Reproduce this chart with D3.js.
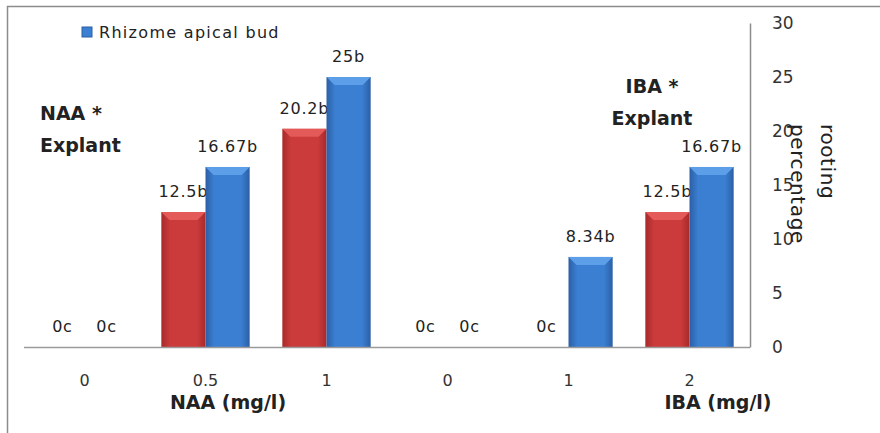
<!DOCTYPE html>
<html>
<head>
<meta charset="utf-8">
<script src="https://cdn.jsdelivr.net/npm/d3@7"></script>
<style>
  body { margin: 0; background: #fff; }
  svg { display: block; font-family: "DejaVu Sans", sans-serif; }
</style>
</head>
<body>
<svg id="chart"></svg>
<script>
const width = 880;
const height = 433;
const margins = { top: 23, right: 130, bottom: 86, left: 24 };

// six treatments: NAA 0/0.5/1 then IBA 0/1/2
const categories = ["NAA 0", "NAA 0.5", "NAA 1", "IBA 0", "IBA 1", "IBA 2"];
const tickLabels = ["0", "0.5", "1", "0", "1", "2"];
const redValues = [0, 12.5, 20.2, 0, 0, 12.5];
const blueValues = [0, 16.67, 25, 0, 8.34, 16.67];
const redLabels = ["0c", "12.5b", "20.2b", "0c", "0c", "12.5b"];
const blueLabels = ["0c", "16.67b", "25b", "0c", "8.34b", "16.67b"];
const yTicks = [0, 5, 10, 15, 20, 25, 30];

const svg = d3.select("#chart").attr("width", width).attr("height", height);

// outer frame (only top and left edges show)
svg.append("path")
  .attr("d", `M7.5,${height} V6.5 H${width}`)
  .attr("fill", "none")
  .attr("stroke", "#8c8c8c")
  .attr("stroke-width", 1.5);

const x = d3.scaleBand()
  .domain(categories)
  .range([margins.left, width - margins.right])
  .paddingInner(0.27)
  .paddingOuter(0.135);

const x1 = d3.scaleBand().domain(["red", "blue"]).range([0, x.bandwidth()]);

const y = d3.scaleLinear()
  .domain([0, 30])
  .range([height - margins.bottom, margins.top]);

// gradients for the bevelled bars
const defs = svg.append("defs");
const makeGrad = (id, edge, mid) => {
  const g = defs.append("linearGradient").attr("id", id)
    .attr("x1", 0).attr("x2", 1).attr("y1", 0).attr("y2", 0);
  g.append("stop").attr("offset", 0).attr("stop-color", edge);
  g.append("stop").attr("offset", 0.2).attr("stop-color", mid);
  g.append("stop").attr("offset", 0.8).attr("stop-color", mid);
  g.append("stop").attr("offset", 1).attr("stop-color", edge);
};
makeGrad("gradRed", "#a82a2b", "#cb3b3b");
makeGrad("gradBlue", "#2c5fa6", "#3b7fd2");

const series = [
  { key: "red", values: redValues, labels: redLabels, fill: "url(#gradRed)", top: "#e35a59" },
  { key: "blue", values: blueValues, labels: blueLabels, fill: "url(#gradBlue)", top: "#5c9ee8" },
];

const plot = svg.append("g");

series.forEach((s) => {
  const g = plot.append("g");
  const data = categories.map((c, i) => ({ cat: c, value: s.values[i], label: s.labels[i] }));
  const bars = data.filter((d) => d.value > 0);

  g.selectAll("rect.bar")
    .data(bars)
    .join("rect")
    .attr("class", "bar")
    .attr("x", (d) => x(d.cat) + x1(s.key))
    .attr("y", (d) => y(d.value))
    .attr("width", x1.bandwidth())
    .attr("height", (d) => y(0) - y(d.value))
    .attr("fill", s.fill);

  // top bevel
  g.selectAll("path.bevel")
    .data(bars)
    .join("path")
    .attr("class", "bevel")
    .attr("d", (d) => {
      const x0 = x(d.cat) + x1(s.key);
      const w = x1.bandwidth();
      const t = y(d.value);
      return `M${x0},${t} H${x0 + w} L${x0 + w - 8},${t + 8} H${x0 + 8} Z`;
    })
    .attr("fill", s.top);

  g.selectAll("text")
    .data(data)
    .join("text")
    .attr("x", (d) => x(d.cat) + x1(s.key) + x1.bandwidth() / 2)
    .attr("y", (d) => y(d.value) - 15)
    .attr("text-anchor", "middle")
    .attr("font-size", "16px")
    .attr("letter-spacing", "0.8px")
    .attr("fill", "#222")
    .text((d) => d.label);
});

// baseline
svg.append("line")
  .attr("x1", margins.left).attr("x2", width - margins.right)
  .attr("y1", y(0) + 0.5).attr("y2", y(0) + 0.5)
  .attr("stroke", "#9a9a9a").attr("stroke-width", 1.5);

// category ticks
svg.append("g")
  .selectAll("text")
  .data(categories)
  .join("text")
  .attr("x", (d) => x(d) + x.bandwidth() / 2)
  .attr("y", y(0) + 39)
  .attr("text-anchor", "middle")
  .attr("font-size", "16px")
  .attr("fill", "#333")
  .text((d, i) => tickLabels[i]);

// right y axis
const yAxis = svg.append("g")
  .attr("transform", `translate(${width - margins.right},0)`)
  .call(d3.axisRight(y).tickValues(yTicks).tickSize(0).tickPadding(22));
yAxis.select(".domain").attr("stroke", "#8c8c8c").attr("stroke-width", 1.5);
yAxis.selectAll("text")
  .attr("font-size", "17px")
  .attr("font-family", "DejaVu Sans, sans-serif")
  .attr("fill", "#333");

// y axis title, wrapped in two rotated lines
const yTitle = svg.append("text")
  .attr("transform", `translate(828,124) rotate(90)`)
  .attr("font-size", "20px")
  .attr("letter-spacing", "0.6px")
  .attr("fill", "#222");
yTitle.append("tspan").attr("x", 0).attr("dy", "0.35em").text("rooting");
yTitle.append("tspan").attr("x", 0).attr("dy", "1.5em").text("percentage");

// legend
svg.append("rect")
  .attr("x", 82).attr("y", 27).attr("width", 10).attr("height", 10)
  .attr("fill", "#3b7fd2").attr("stroke", "#2c5fa6");
svg.append("text")
  .attr("x", 99).attr("y", 38)
  .attr("font-size", "16px")
  .attr("letter-spacing", "1.3px")
  .attr("fill", "#222")
  .text("Rhizome apical bud");

// group notes
const note = (lines, xPos, yPos, anchor) => {
  const t = svg.append("text")
    .attr("font-size", "19px")
    .attr("font-weight", "bold")
    .attr("fill", "#222")
    .attr("text-anchor", anchor);
  lines.forEach((l, i) => {
    t.append("tspan").attr("x", xPos).attr("y", yPos + i * 32).text(l);
  });
};
note(["NAA *", "Explant"], 40, 120, "start");
note(["IBA *", "Explant"], 652, 93, "middle");

// x titles
svg.append("text")
  .attr("x", 228).attr("y", 409)
  .attr("text-anchor", "middle")
  .attr("font-size", "19px").attr("font-weight", "bold").attr("fill", "#222")
  .text("NAA (mg/l)");
svg.append("text")
  .attr("x", 718).attr("y", 409)
  .attr("text-anchor", "middle")
  .attr("font-size", "19px").attr("font-weight", "bold").attr("fill", "#222")
  .text("IBA (mg/l)");
</script>
</body>
</html>
